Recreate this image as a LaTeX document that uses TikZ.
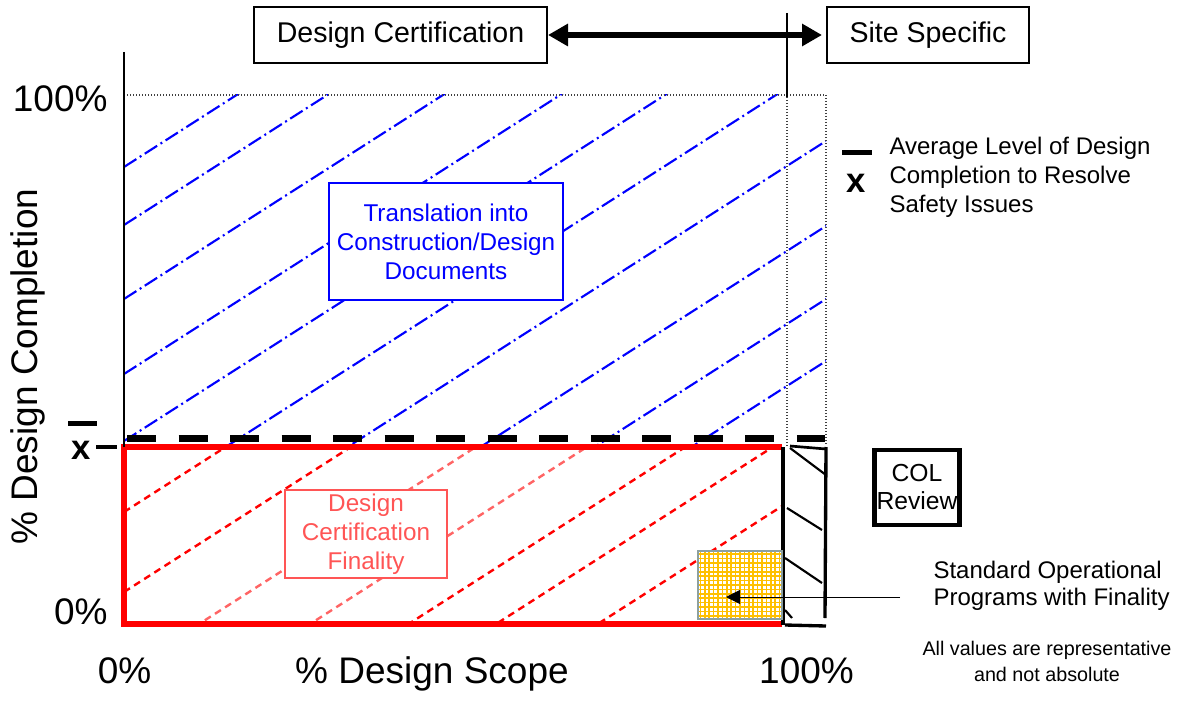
\documentclass[tikz,border=0pt]{standalone}
\usepackage{fontspec}
\setmainfont{Liberation Sans}
\usetikzlibrary{arrows.meta}

\definecolor{palered}{RGB}{255,100,100}
\definecolor{labelred}{RGB}{255,85,85}
\definecolor{gridgold}{RGB}{255,192,0}
\definecolor{gridedge}{RGB}{140,160,160}

\tikzset{every picture/.style={line width=0.75pt}}
\tikzset{
  bluehatch/.style={color=blue, line width=1.6pt, dash pattern=on 11pt off 3pt on 1.5pt off 3pt},
  redhatch/.style={color=red, line width=1.8pt, dash pattern=on 5.25pt off 3.75pt},
  guide/.style={color=black!75, line width=0.9pt, dash pattern=on 0.75pt off 1.5pt},
  tagbox/.style={draw, line width=1.5pt, inner sep=0pt, minimum height=42pt, font=\fontsize{21.4pt}{25pt}\selectfont},
  axislbl/.style={inner sep=0pt, font=\fontsize{27.75pt}{33pt}\selectfont},
  boxtext/.style={fill=white, inner sep=0pt, align=center, font=\fontsize{18.2pt}{21.75pt}\selectfont},
  bigx/.style={inner sep=0pt, font=\fontsize{26pt}{30pt}\selectfont\bfseries},
  gridcell/.style={draw=gridedge, fill=white, line width=1.5pt, inner sep=0pt,
    minimum width=63pt, minimum height=51pt,
    path picture={\draw[draw=gridgold, line width=1.3pt, step=3.3pt] (path picture bounding box.south west) grid (path picture bounding box.north east);}}
}

\begin{document}
\begin{tikzpicture}[x=0.75pt,y=0.75pt,yscale=-1,xscale=1]
\useasboundingbox (0,0) rectangle (1181,709);

%Hatching: translation region
\begin{scope}
\clip (124,95) rectangle (826,447);
\foreach \c in {167,225,299,374,441,512,590,675,748,810}
  \draw[bluehatch] (124,\c) -- (826,\c-449);
\end{scope}

%Hatching: certification region
\begin{scope}
\clip (124,447) rectangle (782,624);
\foreach \c in {512,592,806,862,927}
  \draw[redhatch] (124,\c) -- (826,\c-449);
\foreach \c in {672,743}
  \draw[redhatch, palered] (124,\c) -- (826,\c-449);
\end{scope}

%Dotted Lines
\draw[guide] (124,95) -- (826,95) -- (826,445);
\draw[guide] (787,97) -- (787,447);
%Straight Lines
\draw[line width=1.1pt] (787,13) -- (787,97);

%Average level (dashed)
\draw[line width=5.25pt, dash pattern=on 21.75pt off 16.9pt] (127,438) -- (825,438);

%Shape: open Rectangle
\draw[red, line width=4.5pt] (782,447) -- (124,447) -- (124,624) -- (782,624);

%Axis
\draw[line width=1.5pt] (124,52) -- (124,447);
\draw[line width=2.5pt] (96,447) -- (117,447);
\draw[line width=3.75pt] (68,423.5) -- (97,423.5);
\draw[line width=3.75pt] (842,153) -- (872,153);

%COL column
\draw[line width=2.5pt] (783,447) -- (783,625);
\draw[line width=2.5pt] (826,447) -- (825,618);
\draw[line width=2pt] (790,446) -- (826,449);
\draw[line width=2.5pt] (785,625) -- (826,626);
\draw[line width=1.6pt] (790,448) -- (826,475) (787,508) -- (822,530) (785,558) -- (822,583) (785,610) -- (792,618);

%Shape: Grid
\node[gridcell] (sopbox) at (740,585) {};

% Text Node
\node[tagbox, minimum width=219.75pt] (dc) at (400.5,35) {Design Certification};
% Text Node
\node[tagbox, minimum width=151.5pt] (ss) at (928,35) {Site Specific};
\draw[line width=4.5pt, {Triangle[length=15pt,width=16pt]}-{Triangle[length=15pt,width=16pt]}, shorten >=3pt] (dc) -- (ss);

% Text Node
\node[boxtext, draw=blue, line width=1.5pt, text=blue, minimum width=175.5pt, minimum height=87.75pt] (trans) at (446,241.5) {Translation into\\Construction/Design\\Documents};
% Text Node
\node[boxtext, draw=labelred, line width=1.1pt, text=labelred, minimum width=121.5pt, minimum height=66pt] (dcf) at (366,534) {Design\\Certification\\Finality};
% Text Node
\node[boxtext, draw, line width=3.4pt, minimum width=64pt, minimum height=56pt, font=\fontsize{18.5pt}{21pt}\selectfont] (col) at (917,487.5) {COL\\Review};

% Text Node
\node[axislbl, anchor=base east] (ytop) at (108,112) {100\%};
% Text Node
\node[axislbl, anchor=base east] (ybot) at (108,624) {0\%};
% Text Node
\node[axislbl, anchor=base] (xleft) at (124.5,683) {0\%};
% Text Node
\node[axislbl, anchor=base] (xright) at (806.5,683) {100\%};
% Text Node
\node[axislbl, anchor=base] (xtitle) at (432,683) {\% Design Scope};
% Text Node
\node[axislbl, anchor=base west, rotate=90] (ytitle) at (37,545) {\% Design Completion};

% Text Node
\node[bigx] (xmark) at (81,450) {x};
% Text Node
\node[bigx] (xkey) at (856,183) {x};
% Text Node
\node[anchor=west, align=left, inner sep=0pt, font=\fontsize{18pt}{21.75pt}\selectfont] (keytext) at (889,177) {Average Level of Design\\Completion to Resolve\\Safety Issues};
% Text Node
\node[anchor=west, align=left, inner sep=0pt, font=\fontsize{18pt}{20.25pt}\selectfont] (sop) at (933,586) {Standard Operational\\Programs with Finality};
% Text Node
\node[align=center, inner sep=0pt, font=\fontsize{14.8pt}{19.5pt}\selectfont] (note) at (1047,661) {All values are representative\\and not absolute};

%Straight Lines
\coordinate (soptail) at (900,597);
\draw[line width=0.75pt, -{Triangle[length=10.5pt,width=10.5pt]}] (soptail) -- ([xshift=-10.5pt]sopbox.center |- soptail);

\end{tikzpicture}
\end{document}
